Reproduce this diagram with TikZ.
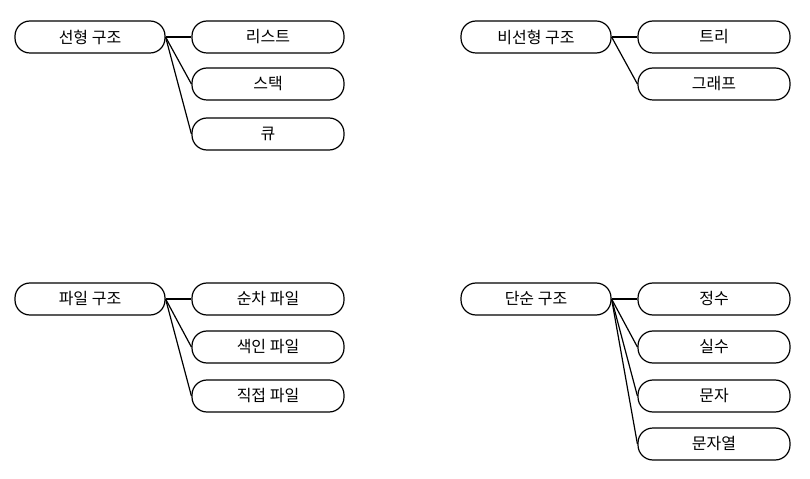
\documentclass[tikz,border=0pt]{standalone}
\usepackage{fontspec}
\setmainfont{Noto Sans CJK KR}
\usetikzlibrary{positioning}
\begin{document}
\begin{tikzpicture}[x=1bp, y=-1bp, line width=1.2bp,
    box/.style={draw, rounded corners=15bp, minimum width=150bp, minimum height=32bp, font=\fontsize{16bp}{18bp}\selectfont, inner sep=0pt}]
    \useasboundingbox (0,0) rectangle (810,479);

    % linear
    \node[box] (lin) at (90,37) {선형 구조};
    \node[box, minimum width=152bp] (list) at (268,37) {리스트};
    \node[box, minimum width=152bp] (stack) at (268,84) {스택};
    \node[box, minimum width=152bp] (queue) at (268,134) {큐};

    % nonlinear
    \node[box] (nonlin) at (536,37) {비선형 구조};
    \node[box, minimum width=152bp] (tree) at (714,37) {트리};
    \node[box, minimum width=152bp] (graph) at (714,84) {그래프};

    % file
    \node[box] (file) at (90,299) {파일 구조};
    \node[box, minimum width=152bp] (seq) at (268,299) {순차 파일};
    \node[box, minimum width=152bp] (idx) at (268,347) {색인 파일};
    \node[box, minimum width=152bp] (dir) at (268,396) {직접 파일};

    % simple
    \node[box] (simple) at (536,299) {단순 구조};
    \node[box, minimum width=152bp] (int) at (714,299) {정수};
    \node[box, minimum width=152bp] (real) at (714,347) {실수};
    \node[box, minimum width=152bp] (char) at (714,396) {문자};
    \node[box, minimum width=152bp] (str) at (714,444) {문자열};

    \foreach \p/\c in {lin/list, lin/stack, lin/queue, nonlin/tree, nonlin/graph,
        file/seq, file/idx, file/dir, simple/int, simple/real, simple/char, simple/str}
        \draw (\p.east) -- (\c.west);
\end{tikzpicture}
\end{document}
